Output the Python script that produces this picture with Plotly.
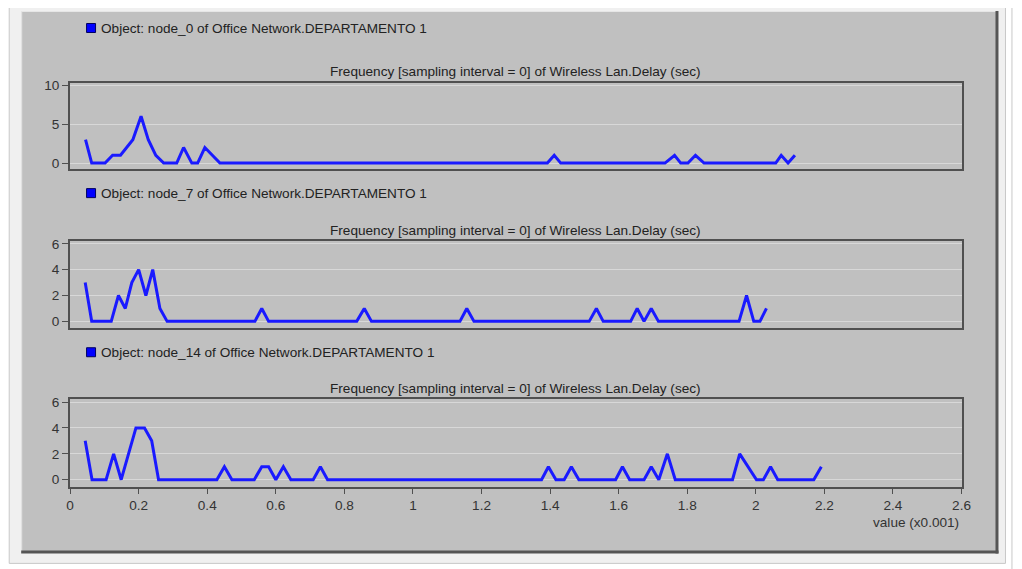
import plotly.graph_objects as go

# ---------------- data ----------------
x_range = [0, 2.6]
x_ticks = [0, 0.2, 0.4, 0.6, 0.8, 1.0, 1.2, 1.4, 1.6, 1.8, 2.0, 2.2, 2.4, 2.6]
x_tick_labels = ["0", "0.2", "0.4", "0.6", "0.8", "1", "1.2", "1.4", "1.6", "1.8", "2", "2.2", "2.4", "2.6"]

node0_x = [0.045, 0.063, 0.102, 0.124, 0.147, 0.165, 0.183, 0.207, 0.228, 0.25, 0.273,
           0.311, 0.331, 0.355, 0.372, 0.393, 0.416, 0.437, 1.392, 1.412, 1.431,
           1.735, 1.763, 1.781, 1.802, 1.824, 1.849, 2.058, 2.074, 2.094, 2.114]
node0_y = [3, 0, 0, 1, 1, 2, 3, 6, 3, 1, 0,
           0, 2, 0, 0, 2, 1, 0, 0, 1, 0,
           0, 1, 0, 0, 1, 0, 0, 1, 0, 1]

node7_x = [0.044, 0.063, 0.12, 0.141, 0.161, 0.18, 0.2, 0.221, 0.241, 0.262, 0.283,
           0.539, 0.559, 0.579, 0.836, 0.858, 0.879, 1.137, 1.157, 1.178,
           1.514, 1.535, 1.555, 1.635, 1.654, 1.674, 1.695, 1.716,
           1.951, 1.973, 1.994, 2.012, 2.031]
node7_y = [3, 0, 0, 2, 1, 3, 4, 2, 4, 1, 0,
           0, 1, 0, 0, 1, 0, 0, 1, 0,
           0, 1, 0, 0, 1, 0, 1, 0,
           0, 2, 0, 0, 1]

node14_x = [0.044, 0.064, 0.105, 0.127, 0.149, 0.17, 0.192, 0.217, 0.238, 0.258,
            0.428, 0.45, 0.472, 0.537, 0.559, 0.579, 0.6, 0.622, 0.644,
            0.709, 0.73, 0.751, 1.375, 1.395, 1.417, 1.441, 1.462, 1.484,
            1.591, 1.611, 1.632, 1.674, 1.695, 1.717, 1.742, 1.765,
            1.932, 1.953, 1.978, 2.002, 2.022, 2.043, 2.064, 2.169, 2.191]
node14_y = [3, 0, 0, 2, 0, 2, 4, 4, 3, 0,
            0, 1, 0, 0, 1, 1, 0, 1, 0,
            0, 1, 0, 0, 1, 0, 0, 1, 0,
            0, 1, 0, 0, 1, 0, 2, 0,
            0, 2, 1, 0, 0, 1, 0, 0, 1]

legend_labels = ["Object: node_0 of Office Network.DEPARTAMENTO 1",
                 "Object: node_7 of Office Network.DEPARTAMENTO 1",
                 "Object: node_14 of Office Network.DEPARTAMENTO 1"]
panel_title = "Frequency [sampling interval = 0] of Wireless Lan.Delay (sec)"
y_ranges = [[-0.77, 10.26], [-0.53, 6.2], [-0.55, 6.25]]
y_ticks = [[0, 5, 10], [0, 2, 4, 6], [0, 2, 4, 6]]
x_axis_title = "value (x0.001)"

# ---------------- layout helpers ----------------
W, H = 1022, 569
# the page shows the figure slightly offset and scaled; target positions are
# given in screenshot pixels and mapped back to figure pixels here
OX, SX = 10.8, 0.989
OY, SY = 12.0, 0.987
def fx(x):
    return (x - OX) / SX
def fy(y):
    return (y - OY) / SY
def px(x):
    return fx(x) / W
def py(y):
    return 1 - fy(y) / H

FONT = "Arial, Liberation Sans, sans-serif"
FS = 13.6
LINE_COLOR = "#1a1aff"
series = [(node0_x, node0_y), (node7_x, node7_y), (node14_x, node14_y)]
boxes = [(82, 168), (240, 327), (397.5, 485.5)]
legend_y = [27, 192, 351]
title_y = [70, 229, 387]
x_left, x_right = 69, 962

fig = go.Figure()
layout = dict(
    width=W, height=H,
    margin=dict(l=0, r=0, t=0, b=0),
    paper_bgcolor="white",
    plot_bgcolor="#f0f0f0",
    showlegend=False,
    font=dict(family=FONT, size=FS, color="#222222"),
)

for i, (xs, ys) in enumerate(series):
    n = "" if i == 0 else str(i + 1)
    fig.add_trace(go.Scatter(x=xs, y=ys, mode="lines", xaxis="x" + n, yaxis="y" + n,
                             line=dict(color=LINE_COLOR, width=3), hoverinfo="x+y"))
    top, bot = boxes[i]
    last = (i == 2)
    layout["xaxis" + n] = dict(
        domain=[px(x_left), px(x_right)], range=x_range, anchor="y" + n,
        showgrid=False, zeroline=False, showline=True, mirror=True,
        linecolor="#505050", linewidth=2,
        ticks="outside" if last else "", ticklen=5, tickcolor="#505050",
        tickvals=x_ticks, ticktext=x_tick_labels, showticklabels=last,
        tickfont=dict(size=FS, color="#333333"),
    )
    layout["yaxis" + n] = dict(
        domain=[py(bot), py(top)], range=y_ranges[i], anchor="x" + n,
        showgrid=True, gridcolor="#d8d8d8", gridwidth=1, zeroline=False,
        showline=True, mirror=True, linecolor="#505050", linewidth=2,
        ticks="outside", ticklen=6, tickcolor="#505050",
        tickvals=y_ticks[i], tickfont=dict(size=FS, color="#333333"),
    )

def rect(x0, x1, y0, y1, **kw):
    return dict(type="rect", xref="paper", yref="paper",
                x0=px(x0), x1=px(x1), y0=py(y1), y1=py(y0), **kw)
def line(x0, y0, x1, y1, color, width):
    return dict(type="line", xref="paper", yref="paper", x0=px(x0), x1=px(x1),
                y0=py(y0), y1=py(y1), line=dict(color=color, width=width), layer="below")

shapes = [
    rect(8, 1006, 2, 562, fillcolor="#f0f0f0", line=dict(color="#c8c8c8", width=1), layer="below"),
    rect(20, 998, 10, 551, fillcolor="#c0c0c0", line=dict(width=0), layer="below"),
    line(20, 10.5, 998, 10.5, "#e6e6e6", 1),
    line(20.5, 10, 20.5, 551, "#e6e6e6", 1),
    line(997.5, 10, 997.5, 552, "#555555", 3),
    line(20, 550.5, 999, 550.5, "#555555", 3),
    line(1016.5, 0, 1016.5, 575, "#202020", 2),
    line(1012.5, 0, 1012.5, 575, "#c8c8c8", 1),
]

annotations = []
for i in range(3):
    ly = legend_y[i]
    shapes.append(rect(85.5, 94.5, ly - 4.5, ly + 4.5,
                       fillcolor="#0000ff", line=dict(color="#000060", width=1)))
    annotations.append(dict(xref="paper", yref="paper", x=px(98), y=py(ly), xanchor="left",
                            yanchor="middle", text=legend_labels[i], showarrow=False,
                            font=dict(size=FS, color="#222222", family=FONT)))
    annotations.append(dict(xref="paper", yref="paper", x=px((x_left + x_right) / 2), y=py(title_y[i]),
                            xanchor="center", yanchor="middle", text=panel_title, showarrow=False,
                            font=dict(size=FS, color="#222222", family=FONT)))
annotations.append(dict(xref="paper", yref="paper", x=px(961), y=py(521), xanchor="right",
                        yanchor="middle", text=x_axis_title, showarrow=False,
                        font=dict(size=FS, color="#333333", family=FONT)))

layout["shapes"] = shapes
layout["annotations"] = annotations
fig.update_layout(**layout)
fig.write_html("out.html")
